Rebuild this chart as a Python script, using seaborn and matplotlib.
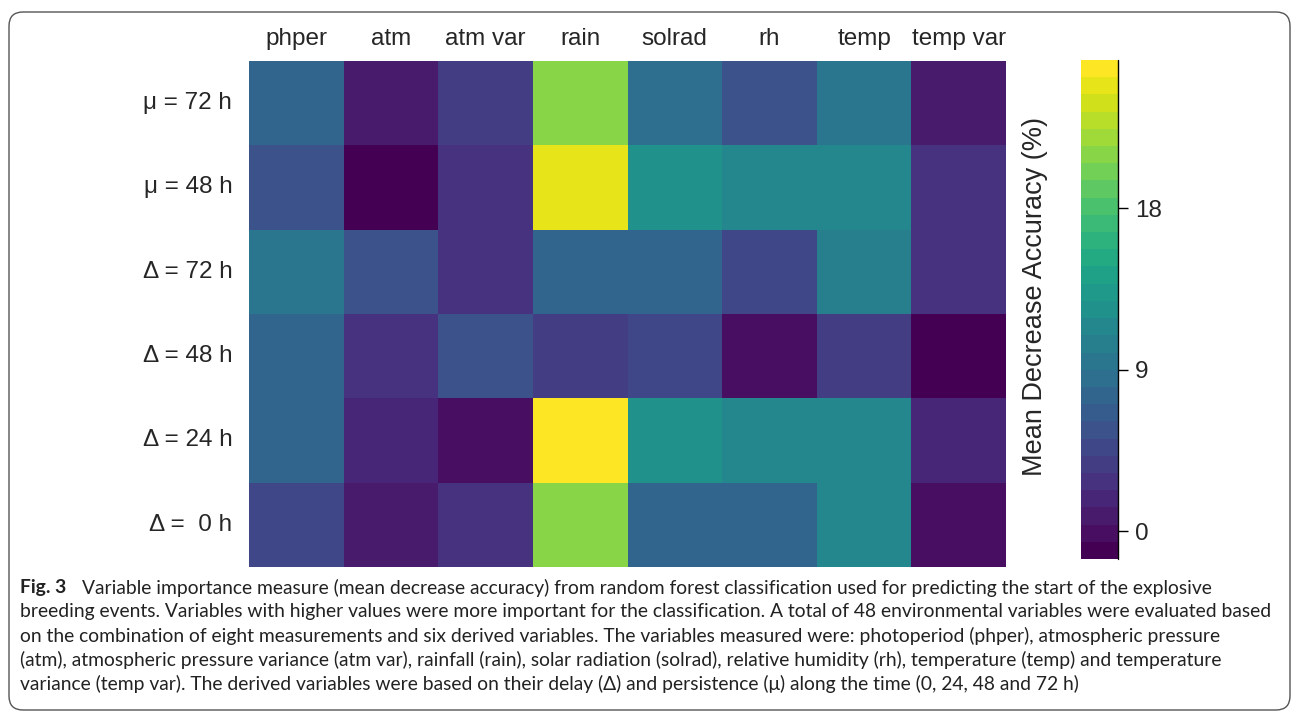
import numpy as np
import pandas as pd
import matplotlib
matplotlib.use("Agg")
import matplotlib.pyplot as plt
from matplotlib.patches import FancyBboxPatch
from matplotlib.transforms import IdentityTransform
import seaborn as sns

# -------------------------------
# Data (mean decrease accuracy, %)
# -------------------------------
variables = ["phper", "atm", "atm var", "rain", "solrad", "rh", "temp", "temp var"]
lags = ["\u03bc = 72 h", "\u03bc = 48 h", "\u0394 = 72 h", "\u0394 = 48 h", "\u0394 = 24 h", "\u0394 =  0 h"]

mu_72 = [7.1, 0.4, 3.7, 21.2, 8.2, 5.9, 9.0, 0.4]
mu_48 = [5.4, -1.5, 2.6, 25.1, 12.3, 11.6, 11.0, 2.6]
delta_72 = [9.0, 5.9, 3.2, 7.9, 7.9, 4.6, 10.7, 2.6]
delta_48 = [7.6, 2.9, 5.9, 3.7, 4.3, 0.1, 3.7, -1.5]
delta_24 = [7.6, 1.8, 0.1, 26.2, 12.6, 11.0, 11.5, 1.8]
delta_0 = [4.3, 0.7, 2.6, 21.2, 7.3, 7.9, 11.0, -0.4]

cbar_ticks = [0, 9, 18]

df = pd.DataFrame([mu_72, mu_48, delta_72, delta_48, delta_24, delta_0],
                  index=lags, columns=variables)

# -------------------------------
# Figure
# -------------------------------
sns.set_style("white")
plt.rcParams["font.family"] = ["Liberation Sans", "DejaVu Sans"]

fig = plt.figure(figsize=(12.93, 7.13), dpi=100)
W, H = 1293, 713

# rounded frame around the figure (pixel coords)
frame = FancyBboxPatch((9, 3), 1281, 698,
                       boxstyle="round,pad=0,rounding_size=14",
                       transform=IdentityTransform(), fill=False,
                       edgecolor="#555555", linewidth=1.0)
fig.patches.append(frame)

ax = fig.add_axes([249 / W, (H - 567) / H, 757 / W, 506 / H])
cax = fig.add_axes([1081 / W, (H - 559) / H, 37 / W, 499 / H])

# discrete viridis with 29 steps (keeps the end colours)
cmap = matplotlib.colormaps["viridis"].resampled(29)

sns.heatmap(df, ax=ax, cmap=cmap, vmin=-1.56, vmax=26.25,
            cbar_ax=cax, cbar_kws={"ticks": cbar_ticks})

ax.xaxis.tick_top()
ax.tick_params(axis="both", length=0, labelsize=17.5)
ax.tick_params(axis="x", pad=8)
ax.tick_params(axis="y", pad=12)
ax.set_xticklabels(variables, rotation=0)
ax.set_yticklabels(lags, rotation=0)
ax.set_xlabel("")
ax.set_ylabel("")

cbar = ax.collections[0].colorbar
cbar.outline.set_visible(False)
cax.tick_params(labelsize=17.5, length=7, width=1, color="black", pad=5)
cax.axvline(1, color="black", lw=1, clip_on=False)
fig.text(1035 / W, 1 - 297 / H, "Mean Decrease Accuracy (%)",
         rotation=90, ha="center", va="center", fontsize=19.5)

# -------------------------------
# Caption
# -------------------------------
cap_font = ["Lato", "DejaVu Sans"]
lines = [
    "Variable importance measure (mean decrease accuracy) from random forest classification used for predicting the start of the explosive",
    "breeding events. Variables with higher values were more important for the classification. A total of 48 environmental variables were evaluated based",
    "on the combination of eight measurements and six derived variables. The variables measured were: photoperiod (phper), atmospheric pressure",
    "(atm), atmospheric pressure variance (atm var), rainfall (rain), solar radiation (solrad), relative humidity (rh), temperature (temp) and temperature",
    "variance (temp var). The derived variables were based on their delay (\u0394) and persistence (\u03bc) along the time (0, 24, 48 and 72 h)",
]
y0 = 588
fig.text(20 / W, 1 - y0 / H, "Fig. 3", fontsize=13.9, fontweight="bold",
         family=cap_font, va="center", color="#222222")
for i, line in enumerate(lines):
    x = 82 if i == 0 else 20
    fig.text(x / W, 1 - (y0 + 24 * i) / H, line, fontsize=13.9,
             family=cap_font, va="center", color="#222222")

plt.savefig("out.png", dpi=100)
